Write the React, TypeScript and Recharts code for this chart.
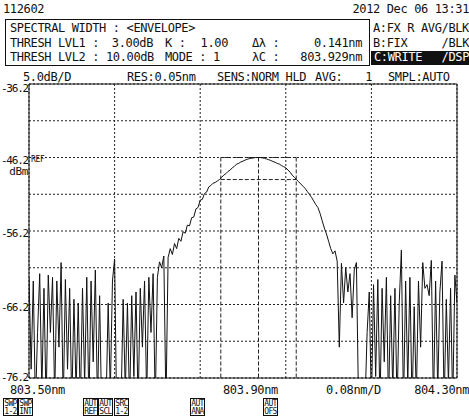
import React from 'react';
import {
  LineChart, Line, XAxis, YAxis, CartesianGrid, ReferenceLine, ReferenceArea,
} from 'recharts';

// sweep grid of the analyser
const START_NM = 803.5;
const STEP_NM = 0.004;

// dBm readings, left noise floor / main peak / right noise floor
const noiseLeft = [
  -62.5, -75, -63, -80, -70, -62.0, -78, -64, -80, -62.2,
  -70, -62.5, -79, -63, -72, -60.5, -80, -62.8, -75, -64,
  -80, -65.5, -78, -66, -80, -64, -77, -62.5, -80, -63,
  -74, -61.5, -80, -65, -82, -84, -80, -66, -78, -63,
  -60, -82, -84, -80, -65.5, -78, -66, -80, -65, -76,
  -64.5, -80, -64, -72, -63, -79, -62.5, -70, -62, -80,
  -62.5,
];
const peakTrace = [
  -60.4, -61.2, -59.6, -80, -59.8, -58.6, -59.4, -57.9, -58.6, -57.2,
  -57.6, -56.3, -56.5, -55.4, -55.5, -54.4, -54.3, -53.2, -53.0, -52.0,
  -51.9, -51.1, -50.9, -50.2, -50.0, -49.7, -49.6, -49.4, -49.2, -48.9,
  -48.6, -48.4, -48.1, -47.9, -47.6, -47.4, -47.1, -47.0, -46.8, -46.7,
  -46.55, -46.45, -46.35, -46.3, -46.25, -46.2, -46.2, -46.2, -46.25, -46.3,
  -46.4, -46.5, -46.6, -46.75, -46.85, -47.0, -47.1, -47.3, -47.45, -47.6,
  -47.9, -48.2, -48.6, -48.9, -49.2, -49.5, -49.8, -50.1, -50.4, -50.8,
  -51.2, -51.6, -52.1, -52.6, -53.0, -53.8, -54.8, -55.8, -56.6, -57.6,
  -58.6, -59.3, -58.9, -60.3, -72,
];
const noiseRight = [
  -60.6, -66, -61.2, -64.5, -62, -68, -61.5, -60.5, -80, -82,
  -84, -80, -70, -64.5, -80, -63.5, -76, -62.8, -80, -64,
  -74, -62.5, -80, -65, -78, -64, -80, -66, -58.8, -80,
  -63, -77, -62.5, -80, -66.5, -79, -63, -72, -60.5, -64,
  -63.5, -65, -60.2, -80, -63, -78, -64.5, -60.3, -80, -65.5,
  -77, -64, -80, -62.2, -66,
];

const xTicks = [803.5, 803.58, 803.66, 803.74, 803.82, 803.9, 803.98, 804.06, 804.14, 804.22, 804.3];
const yTicks = [-76.2, -71.2, -66.2, -61.2, -56.2, -51.2, -46.2, -41.2, -36.2];
const yLabels = [-76.2, -66.2, -56.2, -46.2, -36.2];

// spectral width result (from the header)
const PEAK = -46.2;
const THRESH = 3;
const CENTER = 803.929;
const WIDTH = 0.141;

const buttons = [
  ['SWP', '1-2', 3], ['SWP', 'INT', 18], ['AUT', 'REF', 83], ['AUT', 'SCL', 98],
  ['SRC', '1-2', 114], ['AUT', 'ANA', 190], ['AUT', 'OFS', 263],
] as const;

const trace = [...noiseLeft, ...peakTrace, ...noiseRight].map((dbm, i) => ({
  wl: +(START_NM + i * STEP_NM).toFixed(3),
  dbm,
}));

const FONT = "'DejaVu Sans Mono', monospace";

const YTick = (props: any) => {
  const { y, payload } = props;
  if (!yLabels.includes(payload.value)) return null;
  const base = Math.min(Math.max(y + 6, 92), 381);
  return (
    <text x={28} y={base} textAnchor="end" fontFamily={FONT} fontSize={11} letterSpacing={-1.2} fill="#111">
      {payload.value.toFixed(1)}
    </text>
  );
};

const T = ({ x, y, anchor = 'start', size = 12, fill = '#111', ls = -0.37, children }: any) => (
  <text x={x} y={y} textAnchor={anchor} fontFamily={FONT} fontSize={size} letterSpacing={ls} fill={fill}>
    {children}
  </text>
);

export default function App() {
  const lo = CENTER - WIDTH / 2;
  const hi = CENTER + WIDTH / 2;
  return (
    <div style={{ position: 'relative', width: 469, height: 420, background: '#fff' }}>
      <style>{'body{margin:0}'}</style>
      <LineChart width={469} height={420} data={trace} margin={{ top: 84, right: 12, bottom: 42, left: 0 }}>
        <CartesianGrid stroke="#222" strokeDasharray="2 2" />
        <XAxis dataKey="wl" type="number" domain={[803.5, 804.3]} ticks={xTicks} hide allowDataOverflow />
        <YAxis type="number" domain={[-76.2, -36.2]} ticks={yTicks} width={29} axisLine={false} tickLine={false}
          tick={<YTick />} interval={0} allowDataOverflow />
        <ReferenceLine segment={[{ x: lo, y: PEAK }, { x: hi, y: PEAK }]} stroke="#222" strokeDasharray="4 2" />
        <ReferenceLine segment={[{ x: lo, y: PEAK - THRESH }, { x: hi, y: PEAK - THRESH }]} stroke="#222" strokeDasharray="4 2" />
        <ReferenceLine segment={[{ x: lo, y: PEAK }, { x: lo, y: -76.2 }]} stroke="#222" strokeDasharray="4 2" />
        <ReferenceLine segment={[{ x: CENTER, y: PEAK }, { x: CENTER, y: -76.2 }]} stroke="#222" strokeDasharray="4 2" />
        <ReferenceLine segment={[{ x: hi, y: PEAK }, { x: hi, y: -76.2 }]} stroke="#222" strokeDasharray="4 2" />
        <ReferenceArea x1={803.5} x2={804.3} y1={-76.2} y2={-36.2} fill="none" stroke="#111" strokeWidth={1} fillOpacity={0} />
        <Line type="linear" dataKey="dbm" stroke="#111" strokeWidth={1} dot={false} isAnimationActive={false} />
      </LineChart>

      <svg width={469} height={420} style={{ position: 'absolute', left: 0, top: 0, pointerEvents: 'none' }}>
        <T x={3} y={13}>112602</T>
        <T x={469} y={13} anchor="end">2012 Dec 06 13:31</T>

        <rect x={5.5} y={19.5} width={364} height={46} fill="none" stroke="#111" />
        <T x={10} y={32}>SPECTRAL WIDTH : &lt;ENVELOPE&gt;</T>
        <T x={10} y={47}>THRESH LVL1 :</T>
        <T x={153} y={47} anchor="end">3.00dB</T>
        <T x={165} y={47}>K :</T>
        <T x={228} y={47} anchor="end">1.00</T>
        <T x={252} y={47}>Δλ :</T>
        <T x={362} y={47} anchor="end">0.141nm</T>
        <T x={10} y={61}>THRESH LVL2 : 10.00dB</T>
        <T x={165} y={61}>MODE : 1</T>
        <T x={252} y={61}>λC :</T>
        <T x={362} y={61} anchor="end">803.929nm</T>

        <T x={373} y={32}>A:FX R AVG/BLK</T>
        <T x={373} y={47}>B:FIX</T>
        <T x={469} y={47} anchor="end">/BLK</T>
        <rect x={371} y={51} width={98} height={14} fill="#111" />
        <T x={374} y={61} fill="#fff">C:WRITE</T>
        <T x={469} y={61} anchor="end" fill="#fff">/DSP</T>

        <T x={23} y={81}>5.0dB/D</T>
        <T x={127} y={81}>RES:0.05nm</T>
        <T x={217} y={81}>SENS:NORM HLD</T>
        <T x={315} y={81}>AVG:</T>
        <T x={372} y={81} anchor="end">1</T>
        <T x={388} y={81}>SMPL:AUTO</T>

        <T x={31} y={162} size={8}>REF</T>
        <T x={28} y={175} anchor="end" size={11}>dBm</T>

        <T x={10} y={394}>803.50nm</T>
        <T x={223} y={394}>803.90nm</T>
        <T x={326} y={394}>0.08nm/D</T>
        <T x={469} y={394} anchor="end">804.30nm</T>

        {buttons.map(([a, b, x]) => (
          <g key={a + b + x}>
            <rect x={x + 0.5} y={398.5} width={14} height={17} fill="none" stroke="#111" />
            <T x={x + 7.5} y={406} anchor="middle" size={8} ls={-0.6}>{a}</T>
            <T x={x + 7.5} y={414} anchor="middle" size={8} ls={-0.6}>{b}</T>
          </g>
        ))}
      </svg>
    </div>
  );
}
